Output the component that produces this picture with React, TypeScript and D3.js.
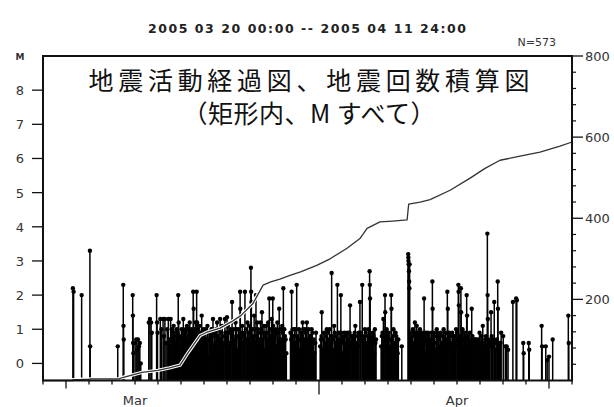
import React from "react";
import * as d3 from "d3";

const START = Date.UTC(2005, 2, 20);
const END = Date.UTC(2005, 3, 12);
const DAY = 864e5;

const titleText = "2005 03 20 00:00 -- 2005 04 11 24:00";
const countLabel = "N=573";
const headline1 = "地震活動経過図、地震回数積算図";
const headline2 = "（矩形内、M すべて）";

const magnitudeTicks = [0, 1, 2, 3, 4, 5, 6, 7, 8];
const countTicks = [200, 400, 600, 800];
const countMinorTicks = [40, 80, 120, 160, 240, 280, 320, 360, 440, 480, 520, 560, 640, 680, 720, 760];
const monthLabels = [
  { label: "Mar", date: "2005-03-24" },
  { label: "Apr", date: "2005-04-07" },
];

// [days since 03/20 00:00, M]
const eventsMar20to25: [number, number][] = [
  [1.3, 2.2], [1.33, 2.1], [1.68, 2.0], [2.04, 3.3], [2.05, 0.5],
  [3.25, 0.5], [3.49, 2.3], [3.5, 1.1], [3.51, 0.7],
  [3.9, 2.0], [3.91, 1.4], [3.92, 0.6], [3.93, 0.3],
  [4.0, 0.6], [4.05, 0.7], [4.09, 0.4], [4.13, 0.7], [4.17, 0.5], [4.21, 0.6], [4.25, 0.0],
  [4.6, 1.2], [4.65, 1.3], [4.7, 1.2], [4.73, 0.9],
  [4.94, 2.0], [4.96, 1.2], [4.98, 0.9],
  [5.1, 1.3], [5.15, 1.0], [5.22, 1.3], [5.26, 0.8], [5.3, 1.3], [5.35, 0.6], [5.4, 1.0],
  [5.45, 1.3], [5.5, 0.7], [5.55, 1.3], [5.62, 0.9], [5.68, 1.1], [5.72, 0.5], [5.78, 0.8],
  [5.88, 2.0], [5.9, 1.2], [5.93, 0.7],
  [5.6, 1.0], [5.65, 0.7], [5.7, 0.9], [5.75, 0.6], [5.81, 1.0], [5.84, 0.7], [5.86, 0.9],
];

const eventsMar26to31: [number, number][] = [
  [5.96, 0.8], [6.0, 0.5], [6.02, 1.0], [6.06, 0.6], [6.08, 0.9], [6.1, 1.3], [6.12, 0.2],
  [6.14, 0.4], [6.18, 0.9], [6.2, 1.0], [6.22, 0.7], [6.26, 1.1], [6.28, 0.3], [6.3, 0.5],
  [6.34, 0.8], [6.36, 0.6], [6.38, 1.2], [6.42, 0.6], [6.44, 1.0], [6.46, 0.9], [6.48, 0.7],
  [6.5, 0.3], [6.53, 2.1], [6.55, 1.6], [6.56, 1.0], [6.58, 0.4], [6.6, 0.7], [6.62, 0.9],
  [6.64, 1.2], [6.66, 0.5], [6.68, 2.1], [6.7, 1.2], [6.72, 0.8], [6.74, 1.0], [6.76, 0.5],
  [6.78, 0.3], [6.8, 1.1], [6.86, 0.6], [6.9, 1.4], [6.94, 0.9], [7.0, 0.4], [7.06, 1.0],
  [7.12, 0.7], [7.18, 0.2], [7.24, 0.9], [7.3, 0.6], [7.36, 1.0], [7.39, 1.3], [7.42, 0.5],
  [7.48, 0.8], [7.56, 0.3], [7.57, 1.2], [7.62, 0.7], [7.7, 1.3], [7.76, 0.9], [7.84, 0.5],
  [7.91, 1.3], [7.98, 0.8], [8.0, 1.35], [8.04, 1.1], [8.12, 0.6], [8.18, 0.9], [8.22, 1.8],
  [8.32, 0.7], [8.4, 1.0], [8.46, 0.4], [8.52, 0.8], [8.57, 2.1], [8.58, 1.6], [8.7, 0.6],
  [8.76, 0.9], [8.78, 2.1], [8.92, 0.7], [8.98, 1.1], [9.02, 0.5], [9.04, 2.8], [9.05, 2.1],
  [9.06, 1.8], [9.12, 0.8], [9.18, 1.4], [9.24, 0.6], [9.26, 2.0], [9.34, 1.0], [9.4, 0.7],
  [9.46, 1.2], [9.52, 1.5], [9.58, 0.9], [9.64, 0.4], [9.7, 1.1], [9.76, 0.7], [9.84, 1.9],
  [9.9, 0.8], [9.94, 1.3], [9.99, 1.9], [10.04, 0.6], [10.1, 1.0], [10.16, 0.5], [10.22, 0.9],
  [10.27, 1.6], [10.34, 0.7], [10.4, 1.1], [10.45, 2.2], [10.52, 0.8], [10.58, 0.3],
  [10.76, 0.9], [10.81, 2.1], [10.88, 0.6], [10.94, 1.0], [11.03, 2.3], [11.1, 0.7],
  [11.16, 0.4], [11.22, 0.9], [11.29, 1.2], [11.34, 0.6], [11.4, 1.0], [11.47, 1.2],
  [11.52, 0.5], [11.58, 0.8], [11.68, 1.0], [11.74, 0.6], [11.8, 0.3], [11.87, 0.9],
  [6.04, 0.7], [6.16, 0.8], [6.24, 0.6], [6.32, 1.0], [6.4, 0.9], [6.52, 0.8], [6.84, 0.9],
  [6.88, 0.5], [6.92, 0.7], [6.97, 1.0], [7.03, 0.8], [7.09, 0.6], [7.15, 1.1], [7.21, 0.7],
  [7.27, 0.8], [7.33, 1.0], [7.45, 0.9], [7.51, 0.6], [7.53, 1.0], [7.59, 0.8], [7.65, 1.0],
  [7.67, 0.6], [7.73, 0.7], [7.79, 1.1], [7.81, 0.6], [7.87, 0.8], [7.94, 0.9], [8.01, 0.6],
  [8.07, 0.9], [8.09, 0.5], [8.15, 1.0], [8.25, 0.8], [8.28, 1.0], [8.35, 0.6], [8.37, 1.2],
  [8.43, 0.8], [8.49, 1.0], [8.55, 0.7], [8.62, 0.9], [8.66, 1.1], [8.73, 0.8], [8.82, 1.0],
  [8.86, 0.7], [8.89, 1.2], [8.95, 0.9], [9.09, 1.0], [9.15, 0.7], [9.21, 1.0], [9.29, 0.8],
  [9.31, 1.2], [9.37, 0.9], [9.43, 0.6], [9.49, 1.0], [9.55, 0.7], [9.61, 1.1], [9.67, 0.8],
  [9.73, 0.9], [9.79, 1.2], [9.81, 0.6], [9.87, 1.0], [9.97, 0.7], [10.01, 1.1], [10.07, 0.8],
  [10.13, 0.9], [10.19, 1.2], [10.25, 0.7], [10.31, 1.0], [10.37, 0.6], [10.43, 0.9],
  [10.49, 1.0], [10.55, 0.7], [10.79, 0.7], [10.85, 1.0], [10.91, 0.8], [10.97, 0.6],
  [11.0, 1.0], [11.06, 0.8], [11.13, 1.0], [11.19, 0.7], [11.25, 0.8], [11.31, 1.0],
  [11.37, 0.7], [11.43, 0.9], [11.49, 0.7], [11.55, 1.0], [11.61, 0.6], [11.64, 0.8],
  [11.71, 0.9], [11.77, 0.7], [11.84, 0.6],
];

const eventsApr1to5: [number, number][] = [
  [12.08, 0.7], [12.12, 1.5], [12.16, 0.4], [12.22, 0.9], [12.28, 0.6], [12.34, 1.0],
  [12.4, 0.5], [12.55, 2.65], [12.56, 0.8], [12.62, 0.4], [12.66, 1.1], [12.8, 2.3],
  [12.84, 0.7], [12.9, 0.5], [12.95, 2.0], [12.96, 0.9], [13.02, 0.3], [13.08, 0.6],
  [13.13, 0.8], [13.18, 0.4], [13.24, 0.9], [13.3, 0.5], [13.35, 1.7], [13.46, 0.8],
  [13.52, 0.6], [13.58, 1.1], [13.64, 0.4], [13.78, 1.8], [13.8, 0.9], [13.88, 2.3],
  [13.94, 0.6], [14.0, 1.0], [14.06, 0.5], [14.12, 0.8], [14.2, 2.7], [14.21, 2.3],
  [14.22, 1.9], [14.28, 0.6], [14.34, 0.9], [14.4, 0.3], [14.43, 1.0], [14.48, 0.7],
  [14.7, 0.5], [14.76, 0.9], [14.8, 1.3], [14.87, 2.0], [14.88, 1.5], [15.0, 0.8],
  [15.06, 0.4], [15.14, 2.0], [15.15, 1.6], [15.18, 0.7], [15.24, 1.0], [15.3, 0.5],
  [15.36, 0.8], [15.4, 0.7], [15.42, 0.3], [15.6, 0.5],
  [12.05, 0.5], [12.11, 0.8], [12.19, 0.7], [12.25, 0.5], [12.31, 0.8], [12.37, 0.9],
  [12.43, 0.7], [12.46, 1.0], [12.5, 0.6], [12.53, 0.8], [12.59, 0.7], [12.69, 0.9],
  [12.72, 0.6], [12.75, 0.8], [12.87, 0.9], [12.93, 0.6], [12.99, 0.8], [13.05, 0.7],
  [13.11, 0.9], [13.16, 0.6], [13.21, 0.8], [13.27, 0.7], [13.33, 0.9], [13.39, 0.6],
  [13.42, 0.8], [13.49, 0.7], [13.55, 0.9], [13.61, 0.6], [13.67, 0.8], [13.7, 0.5],
  [13.73, 0.9], [13.83, 0.7], [13.91, 0.8], [13.97, 0.7], [14.03, 0.9], [14.09, 0.6],
  [14.15, 1.0], [14.25, 0.8], [14.31, 0.7], [14.37, 0.8], [14.45, 0.6], [14.73, 0.8],
  [14.79, 0.6], [14.83, 0.9], [14.91, 0.7], [14.94, 1.0], [14.97, 0.6], [15.03, 0.9],
  [15.09, 0.7], [15.12, 0.5], [15.21, 0.8], [15.27, 0.6], [15.33, 0.9], [15.39, 0.5],
  [15.45, 0.7],
];

const eventsApr6to11: [number, number][] = [
  [15.88, 3.2], [15.885, 3.1], [15.89, 3.0], [15.9, 2.9], [15.91, 2.7], [15.92, 2.4],
  [15.93, 2.2], [15.94, 2.9], [15.96, 0.9], [16.02, 0.6], [16.08, 1.0], [16.12, 0.4],
  [16.17, 1.2], [16.2, 0.8], [16.25, 1.1], [16.3, 0.5], [16.34, 0.9], [16.39, 1.0],
  [16.44, 0.6], [16.5, 0.8], [16.57, 1.9], [16.62, 0.3], [16.68, 0.7], [16.74, 0.9],
  [16.8, 0.5], [16.86, 0.7], [16.93, 2.4], [16.94, 1.6], [17.0, 0.9], [17.06, 0.4],
  [17.12, 1.0], [17.18, 0.8], [17.24, 0.5], [17.3, 0.9], [17.36, 0.6], [17.42, 1.0],
  [17.48, 0.4], [17.54, 0.7], [17.58, 2.1], [17.6, 1.6], [17.66, 0.9], [17.7, 0.8],
  [17.76, 0.5], [17.82, 0.8], [17.88, 0.6], [17.96, 1.0], [18.0, 0.9], [18.06, 2.3],
  [18.07, 2.1], [18.08, 1.7], [18.12, 0.7], [18.17, 2.2], [18.18, 1.5], [18.24, 1.0],
  [18.3, 0.5], [18.36, 0.8], [18.42, 2.0], [18.44, 1.4], [18.5, 0.6], [18.56, 0.9],
  [18.64, 1.6], [18.7, 0.4], [18.76, 0.7], [18.86, 0.7], [18.92, 0.5], [18.98, 0.9],
  [19.04, 0.3], [19.12, 1.1], [19.2, 0.6], [19.26, 0.8], [19.32, 3.8], [19.33, 2.0],
  [19.34, 1.3], [19.4, 0.5], [19.48, 1.5], [19.54, 0.7], [19.62, 1.8], [19.68, 0.4],
  [19.77, 2.4], [19.78, 1.6], [19.86, 0.6], [19.92, 0.9], [20.01, 0.8], [20.1, 0.5],
  [20.16, 0.5], [20.22, 0.4], [20.43, 1.8], [20.57, 1.9], [20.6, 1.85], [20.88, 0.6],
  [20.9, 0.3], [21.12, 0.6], [21.14, 0.4], [21.68, 1.1], [21.7, 0.5], [21.86, 0.5],
  [21.92, 0.1], [22.0, 0.2], [22.16, 0.7], [22.84, 1.4], [22.86, 0.6],
  [15.99, 0.7], [16.05, 0.8], [16.1, 0.6], [16.15, 0.9], [16.23, 0.7], [16.28, 0.9],
  [16.32, 0.6], [16.37, 0.8], [16.42, 0.9], [16.47, 0.7], [16.53, 0.9], [16.55, 0.6],
  [16.6, 0.8], [16.65, 0.9], [16.71, 0.6], [16.77, 0.8], [16.83, 0.6], [16.89, 0.9],
  [16.97, 0.7], [17.03, 0.8], [17.09, 0.6], [17.15, 0.9], [17.21, 0.7], [17.27, 0.8],
  [17.33, 0.6], [17.39, 0.8], [17.45, 0.7], [17.51, 0.9], [17.63, 0.7], [17.73, 0.6],
  [17.79, 0.9], [17.85, 0.7], [17.91, 0.8], [17.93, 0.5], [18.03, 0.7], [18.1, 0.8],
  [18.15, 0.6], [18.21, 0.8], [18.27, 0.7], [18.33, 0.9], [18.39, 0.6], [18.47, 0.8],
  [18.53, 0.7], [18.59, 0.6], [18.67, 0.8], [18.73, 0.6], [18.8, 0.7], [18.83, 0.5],
  [18.89, 0.6], [18.95, 0.7], [19.01, 0.6], [19.07, 0.8], [19.15, 0.5], [19.23, 0.7],
  [19.29, 0.5], [19.37, 0.7], [19.43, 0.6], [19.51, 0.8], [19.57, 0.5], [19.65, 0.6],
  [19.73, 0.7], [19.81, 0.5], [19.89, 0.6],
];

// cumulative number of events: [days since 03/20 00:00, count]
const cumulativeCount: [number, number][] = [
  [0, 0], [1.3, 0], [1.3, 2], [1.68, 2], [1.68, 3], [2.04, 3], [2.04, 4], [3.3, 4],
  [3.5, 8], [3.9, 14], [4.3, 20], [5.0, 25], [5.5, 31], [5.96, 38], [6.3, 68],
  [6.83, 111], [7.13, 119], [7.7, 129], [8.2, 145], [8.6, 160], [9.13, 190], [9.57, 235],
  [9.9, 243], [10.3, 250], [10.74, 259], [11.2, 268], [11.9, 284], [12.48, 300],
  [13.22, 326], [13.78, 350], [14.09, 375], [14.65, 391], [15.2, 393], [15.83, 396],
  [15.9, 435], [16.4, 440], [16.83, 446], [17.7, 469], [18.57, 499], [19.22, 523],
  [19.87, 543], [20.74, 553], [21.61, 563], [22.48, 578], [23, 588],
];

const LEFT = 43;
const RIGHT = 572;
const TOP = 56;
const BOTTOM = 380.5;
const ink = "#111";
const labelFont = "DejaVu Sans, sans-serif";

const toDate = (d: number) => new Date(START + d * DAY);

export default function App() {
  const x = d3.scaleUtc().domain([new Date(START), new Date(END)]).range([LEFT, RIGHT]);
  const yM = d3.scaleLinear().domain([-0.5, 9]).range([BOTTOM, TOP]);
  const yN = d3.scaleLinear().domain([0, 800]).range([BOTTOM, TOP]);

  const events = [...eventsMar20to25, ...eventsMar26to31, ...eventsApr1to5, ...eventsApr6to11];
  const dayTicks = d3.utcDay.range(new Date(START), new Date(END + 1000));

  const cumLine = d3
    .line<[number, number]>()
    .x((d) => x(toDate(d[0])))
    .y((d) => yN(d[1]))(cumulativeCount)!;

  const tickLen = (d: Date) => {
    const day = d.getUTCDate();
    if (day === 1) return 14;
    if (day === 11 || day === 21) return 8;
    return 4;
  };

  return (
    <svg
      width={614}
      height={407}
      style={{ position: "absolute", left: 0, top: 0, background: "#fff" }}
    >
      <rect width={614} height={407} fill="#fff" />

      <text
        x={307}
        y={33}
        textAnchor="middle"
        fontFamily={labelFont}
        fontWeight="bold"
        fontSize={12.5}
        textLength={318}
        lengthAdjust="spacing"
        fill="#222"
      >
        {titleText}
      </text>
      <text x={556} y={46} textAnchor="end" fontFamily={labelFont} fontSize={11} fill="#333">
        {countLabel}
      </text>

      <g>
        {events.map(([d, m], i) => (
          <line
            key={"s" + i}
            x1={x(toDate(d))}
            x2={x(toDate(d))}
            y1={BOTTOM}
            y2={yM(m)}
            stroke="#000"
            strokeWidth={1.5}
          />
        ))}
        {events.map(([d, m], i) => (
          <circle key={"c" + i} cx={x(toDate(d))} cy={yM(m)} r={2.2} fill="#000" />
        ))}
      </g>

      <path d={cumLine} fill="none" stroke="#fff" strokeWidth={3.4} strokeLinejoin="round" />
      <path d={cumLine} fill="none" stroke="#333" strokeWidth={1.3} strokeLinejoin="round" />

      <text
        x={309}
        y={90}
        textAnchor="middle"
        fontFamily="Noto Sans CJK JP, sans-serif"
        fontSize={25}
        textLength={441}
        lengthAdjust="spacing"
        fill="#111"
      >
        {headline1}
      </text>
      <text
        x={309}
        y={123}
        textAnchor="middle"
        fontFamily="Noto Sans CJK JP, sans-serif"
        fontSize={25}
        textLength={253}
        lengthAdjust="spacing"
        fill="#111"
      >
        {headline2}
      </text>

      <rect
        x={LEFT}
        y={TOP}
        width={RIGHT - LEFT}
        height={BOTTOM - TOP}
        fill="none"
        stroke={ink}
        strokeWidth={2}
      />

      <g fontFamily={labelFont} fontSize={13} fill="#333">
        <text x={20} y={60} textAnchor="middle" fontSize={9} fontWeight="bold">
          M
        </text>
        {magnitudeTicks.map((m) => (
          <g key={m} transform={`translate(0,${yM(m)})`}>
            <line x1={32} x2={LEFT} stroke={ink} strokeWidth={1.3} />
            <text x={20} y={5} textAnchor="middle">
              {m}
            </text>
          </g>
        ))}
      </g>

      <g fontFamily={labelFont} fontSize={13} fill="#333">
        {countTicks.map((c) => (
          <g key={c} transform={`translate(0,${yN(c)})`}>
            <line x1={RIGHT} x2={583} stroke={ink} strokeWidth={1.3} />
            <text x={585} y={5}>
              {c}
            </text>
          </g>
        ))}
        {countMinorTicks.map((c) => (
          <line key={c} x1={RIGHT} x2={576} y1={yN(c)} y2={yN(c)} stroke={ink} strokeWidth={1.2} />
        ))}
      </g>

      <g fontFamily={labelFont} fontSize={13} fill="#333">
        {dayTicks.map((d) => (
          <line
            key={d.getTime()}
            x1={x(d)}
            x2={x(d)}
            y1={BOTTOM}
            y2={BOTTOM + tickLen(d)}
            stroke={ink}
            strokeWidth={1.3}
          />
        ))}
        {monthLabels.map((m) => (
          <text key={m.label} x={x(new Date(m.date + "T00:00:00Z"))} y={405} textAnchor="middle">
            {m.label}
          </text>
        ))}
      </g>
    </svg>
  );
}
